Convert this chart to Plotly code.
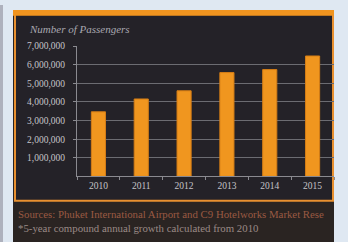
import plotly.graph_objects as go

years = ["2010", "2011", "2012", "2013", "2014", "2015"]
passengers = [3470000, 4160000, 4600000, 5580000, 5740000, 6470000]
ytick_vals = [1000000, 2000000, 3000000, 4000000, 5000000, 6000000, 7000000]
ytick_text = ["1,000,000", "2,000,000", "3,000,000", "4,000,000", "5,000,000", "6,000,000", "7,000,000"]
title_text = "Number of Passengers"
source_line = "Sources: Phuket International Airport and C9 Hotelworks Market Rese"
note_line = "*5-year compound annual growth calculated from 2010"

W, H = 348, 242
def px(x):
    return x / W
def py(y):
    return 1 - y / H

serif = "Liberation Serif, DejaVu Serif, serif"

fig = go.Figure()
fig.add_trace(go.Bar(
    x=years, y=passengers, width=0.33,
    marker=dict(color="#f0961f", line=dict(color="#d47d16", width=1)),
))

shapes = [
    dict(type="rect", xref="paper", yref="paper", x0=0, x1=1, y0=0, y1=1,
         fillcolor="#dfe8f2", line=dict(width=0), layer="below"),
    dict(type="rect", xref="paper", yref="paper", x0=0, x1=px(3), y0=0, y1=1,
         fillcolor="#aeb1bd", line=dict(width=0), layer="below"),
    dict(type="rect", xref="paper", yref="paper", x0=px(13), x1=px(334), y0=0, y1=py(5),
         fillcolor="#2a2422", line=dict(width=0), layer="below"),
    dict(type="rect", xref="paper", yref="paper", x0=px(15), x1=px(333), y0=py(200), y1=py(9),
         fillcolor="#242228", line=dict(color="#e89030", width=2), layer="below"),
    dict(type="rect", xref="paper", yref="paper", x0=px(13), x1=px(334), y0=py(11), y1=py(5),
         fillcolor="#f0941f", line=dict(width=0), layer="below"),
]

annotations = [
    dict(text="<i>" + title_text + "</i>", xref="paper", yref="paper", x=px(27), y=py(24),
         xanchor="left", yanchor="middle", showarrow=False,
         font=dict(family=serif, size=11, color="#a8a8b0")),
    dict(text=source_line, xref="paper", yref="paper", x=px(16), y=py(213),
         xanchor="left", yanchor="middle", showarrow=False,
         font=dict(family=serif, size=10.8, color="#9a5a42")),
    dict(text=note_line, xref="paper", yref="paper", x=px(16), y=py(228),
         xanchor="left", yanchor="middle", showarrow=False,
         font=dict(family=serif, size=10.8, color="#9a8a86")),
]

fig.update_layout(
    width=W, height=H,
    margin=dict(l=0, r=0, t=0, b=0),
    paper_bgcolor="#dfe8f2",
    plot_bgcolor="rgba(0,0,0,0)",
    showlegend=False,
    bargap=0.67,
    shapes=shapes,
    annotations=annotations,
    xaxis=dict(
        domain=[px(77), px(334)],
        showline=True, linecolor="#8a8a90", linewidth=1,
        ticks="outside", ticklen=3, tickcolor="#8a8a90", tickson="boundaries",
        tickfont=dict(family=serif, size=9.5, color="#c4c4c8"),
        showgrid=False,
    ),
    yaxis=dict(
        domain=[py(175), py(42)],
        range=[0, 7000000],
        tickvals=ytick_vals, ticktext=ytick_text,
        showline=True, linecolor="#8a8a90", linewidth=1,
        ticks="outside", ticklen=3, tickcolor="#8a8a90",
        ticklabelstandoff=6,
        tickfont=dict(family=serif, size=9.5, color="#c4c4c8"),
        showgrid=True, gridcolor="#6c6c72", gridwidth=1.2,
        zeroline=False,
    ),
)

fig.write_html(
    "out.html",
    config={"displayModeBar": False},
    post_script="document.body.style.margin='0';document.body.style.overflow='hidden';document.body.style.background='#dfe8f2';",
)
